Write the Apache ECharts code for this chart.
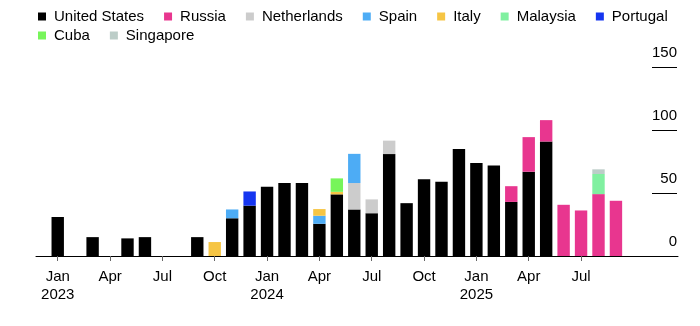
<!DOCTYPE html>
<html>
<head>
<meta charset="utf-8">
<script src="https://cdn.jsdelivr.net/npm/echarts@6/dist/echarts.min.js"></script>
<style>
html,body{margin:0;padding:0;background:#fff;}
#chart{width:700px;height:326px;}
</style>
</head>
<body>
<div id="chart"></div>
<script>
// Months: index 0 = Jan 2023 ... index 35 = Dec 2025 (data through Sep 2025)
const months = ['2023-01','2023-02','2023-03','2023-04','2023-05','2023-06','2023-07','2023-08','2023-09','2023-10','2023-11','2023-12',
  '2024-01','2024-02','2024-03','2024-04','2024-05','2024-06','2024-07','2024-08','2024-09','2024-10','2024-11','2024-12',
  '2025-01','2025-02','2025-03','2025-04','2025-05','2025-06','2025-07','2025-08','2025-09','2025-10','2025-11','2025-12'];

const unitedStates = [31,0,15,0,14,15,0,0,15,0,30,40, 55,58,58,25.6,49,37,34,81,42,61,59,85, 74,72,43,67,91,0,0,0,0];
const russia       = [0,0,0,0,0,0,0,0,0,0,0,0, 0,0,0,0,0,0,0,0,0,0,0,0, 0,0,12.5,27.5,17,40.7,36.2,49.2,43.9];
const netherlands  = [0,0,0,0,0,0,0,0,0,0,0,0, 0,0,0,0,0,21,11,10.7,0,0,0,0, 0,0,0,0,0,0,0,0,0];
const spain        = [0,0,0,0,0,0,0,0,0,0,7,0, 0,0,0,6.4,0,23.2,0,0,0,0,0,0, 0,0,0,0,0,0,0,0,0];
const italy        = [0,0,0,0,0,0,0,0,0,11.1,0,0, 0,0,0,5.3,2,0,0,0,0,0,0,0, 0,0,0,0,0,0,0,0,0];
const malaysia     = [0,0,0,0,0,0,0,0,0,0,0,0, 0,0,0,0,0,0,0,0,0,0,0,0, 0,0,0,0,0,0,0,16,0];
const portugal     = [0,0,0,0,0,0,0,0,0,0,0,11.3, 0,0,0,0,0,0,0,0,0,0,0,0, 0,0,0,0,0,0,0,0,0];
const cuba         = [0,0,0,0,0,0,0,0,0,0,0,0, 0,0,0,0,10.7,0,0,0,0,0,0,0, 0,0,0,0,0,0,0,0,0];
const singapore    = [0,0,0,0,0,0,0,0,0,0,0,0, 0,0,0,0,0,0,0,0,0,0,0,0, 0,0,0,0,0,0,0,3.7,0];

const tickIndices = [0,3,6,9,12,15,18,21,24,27,30];
const tickLabels = ['Jan\n2023','Apr','Jul','Oct','Jan\n2024','Apr','Jul','Oct','Jan\n2025','Apr','Jul'];

const seriesDefs = [
  ['United States', unitedStates, '#000000'],
  ['Russia', russia, '#e8368f'],
  ['Netherlands', netherlands, '#cccccc'],
  ['Spain', spain, '#4dacf5'],
  ['Italy', italy, '#f6c544'],
  ['Malaysia', malaysia, '#80f0a0'],
  ['Portugal', portugal, '#1535f0'],
  ['Cuba', cuba, '#77f55a'],
  ['Singapore', singapore, '#bccdc8']
];

const FONT = '"Liberation Sans", Arial, sans-serif';
const showTick = function (index) { return tickIndices.indexOf(index) >= 0; };

const chart = echarts.init(document.getElementById('chart'), null, {renderer:'canvas'});
chart.setOption({
  animation: false,
  backgroundColor: '#ffffff',
  color: seriesDefs.map(s => s[2]),
  legend: {
    left: 38, top: 9, width: 650,
    orient: 'horizontal',
    itemWidth: 8, itemHeight: 8, itemGap: 4,
    icon: 'rect',
    padding: 0,
    textStyle: {fontFamily: FONT, fontSize: 15, color: '#000', lineHeight: 15, padding: [0, 16, 0, 3]},
    data: seriesDefs.map(s => s[0])
  },
  grid: [
    {left: 49, right: 23, top: 67.3, bottom: 70, containLabel: false, outerBoundsMode: 'none'},
    {left: 36, right: 22, top: 67.3, bottom: 70, containLabel: false, outerBoundsMode: 'none'}
  ],
  xAxis: [{
    type: 'category',
    gridIndex: 0,
    data: months,
    boundaryGap: true,
    splitLine: {show: false},
    axisLine: {show: false},
    axisTick: {show: true, length: 5, alignWithLabel: true, interval: showTick, lineStyle: {color: '#666'}},
    axisLabel: {
      interval: showTick,
      margin: 12,
      fontFamily: FONT, fontSize: 15, color: '#000', lineHeight: 18,
      formatter: function (v, i) { const k = tickIndices.indexOf(i); return k >= 0 ? tickLabels[k] : ''; }
    }
  }, {
    type: 'value',
    gridIndex: 1,
    min: 0, max: 1,
    splitLine: {show: false},
    axisLine: {show: true, onZero: false, lineStyle: {color: '#000', width: 1}},
    axisTick: {show: false},
    axisLabel: {show: false}
  }],
  yAxis: [{
    type: 'value',
    gridIndex: 0,
    position: 'right',
    min: 0, max: 150, interval: 50,
    splitLine: {show: false},
    axisLine: {show: false, onZero: false},
    axisTick: {show: true, inside: true, length: 25, lineStyle: {color: '#000', width: 1}},
    axisLabel: {
      inside: true, margin: 0, align: 'right', verticalAlign: 'bottom',
      lineHeight: 14, padding: [0, 0, 7, 0],
      fontFamily: FONT, fontSize: 15, color: '#000'
    }
  }, {
    type: 'value',
    gridIndex: 1,
    min: 0, max: 1,
    show: false
  }],
  series: seriesDefs.map(s => ({
    name: s[0],
    type: 'bar',
    stack: 'total',
    xAxisIndex: 0, yAxisIndex: 0,
    barWidth: 12.4,
    itemStyle: {color: s[2]},
    data: s[1]
  }))
});
</script>
</body>
</html>
